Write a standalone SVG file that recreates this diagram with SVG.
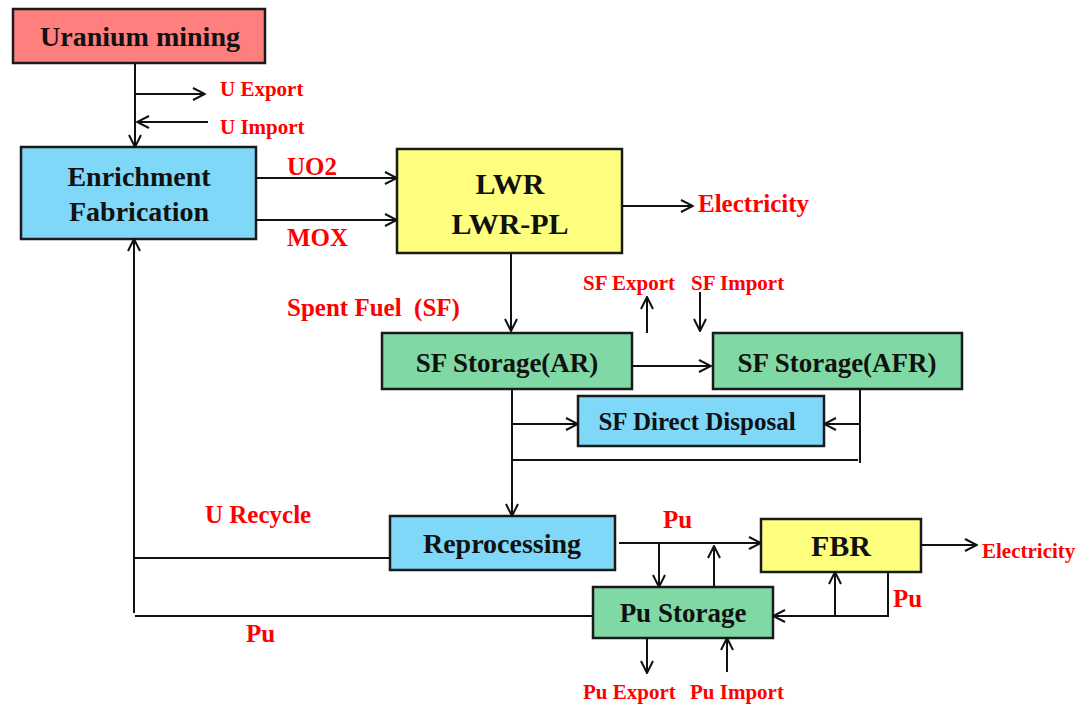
<svg xmlns="http://www.w3.org/2000/svg" width="1079" height="705" viewBox="0 0 1079 705">
<style>
.box{stroke:#1a1a1a;stroke-width:2.5}
.red{fill:#FF7F7F}.blue{fill:#7FD8F8}.yel{fill:#FFFF7F}.grn{fill:#80D8A4}
.nt{font-family:"Liberation Serif",serif;font-weight:bold;fill:#111;text-anchor:middle}
.lb{font-family:"Liberation Serif",serif;font-weight:bold;fill:#FF0000;white-space:pre}
.c{stroke:#111;stroke-width:2;fill:none}
.a{marker-end:url(#ah)}
</style>
<defs>
<marker id="ah" viewBox="0 0 14 14" refX="13" refY="7" markerWidth="14" markerHeight="14" markerUnits="userSpaceOnUse" orient="auto">
<path d="M1,1 L13,7 L1,13" fill="none" stroke="#111" stroke-width="2"/>
</marker>
</defs>
<rect width="1079" height="705" fill="#fff"/>
<g id="mining"><rect class="box red" x="13" y="9" width="252" height="54"/><text class="nt" x="140" y="46" font-size="28">Uranium mining</text></g>
<g id="enrich"><rect class="box blue" x="21" y="147" width="235" height="92"/><text class="nt" x="139" y="186" font-size="28">Enrichment</text><text class="nt" x="139" y="221" font-size="28">Fabrication</text></g>
<g id="lwr"><rect class="box yel" x="397" y="149" width="225" height="104"/><text class="nt" x="510" y="194" font-size="30">LWR</text><text class="nt" x="510" y="234" font-size="30">LWR-PL</text></g>
<g id="sfar"><rect class="box grn" x="382" y="333" width="250" height="56"/><text class="nt" x="507" y="372" font-size="27">SF Storage(AR)</text></g>
<g id="sfafr"><rect class="box grn" x="713" y="333" width="249" height="56"/><text class="nt" x="837" y="372" font-size="27">SF Storage(AFR)</text></g>
<g id="sfdd"><rect class="box blue" x="578" y="396" width="246" height="50"/><text class="nt" x="697" y="430" font-size="25">SF Direct Disposal</text></g>
<g id="repro"><rect class="box blue" x="390" y="516" width="225" height="54"/><text class="nt" x="502" y="553" font-size="28">Reprocessing</text></g>
<g id="fbr"><rect class="box yel" x="761" y="519" width="160" height="53"/><text class="nt" x="841" y="556" font-size="30">FBR</text></g>
<g id="pustor"><rect class="box grn" x="593" y="587" width="180" height="51"/><text class="nt" x="683" y="622" font-size="27">Pu Storage</text></g>
<g id="connectors">
<path class="c a" d="M135,63 V147"/>
<path class="c a" d="M135,94 H205"/>
<path class="c a" d="M208,122 H137"/>
<path class="c a" d="M256,178 H397"/>
<path class="c a" d="M256,220 H397"/>
<path class="c a" d="M622,206 H693"/>
<path class="c a" d="M511,253 V331"/>
<path class="c a" d="M647,333 V297"/>
<path class="c a" d="M700,292 V331"/>
<path class="c a" d="M632,366 H711"/>
<path class="c a" d="M512,389 V516"/>
<path class="c a" d="M512,424 H578"/>
<path class="c" d="M512,460 H858"/>
<path class="c" d="M860,389 V463"/>
<path class="c a" d="M860,424 H824"/>
<path class="c" d="M390,558 H134"/>
<path class="c a" d="M134,613 V239"/>
<path class="c" d="M135,616 H593"/>
<path class="c a" d="M619,543 H761"/>
<path class="c a" d="M659,543 V587"/>
<path class="c a" d="M714,587 V546"/>
<path class="c a" d="M921,545 H977"/>
<path class="c a" d="M888,572 V616 H773"/>
<path class="c a" d="M835,616 V572"/>
<path class="c a" d="M647,638 V673"/>
<path class="c a" d="M727,672 V638"/>
</g>
<g id="labels">
<text class="lb" x="220" y="96" font-size="21">U Export</text>
<text class="lb" x="220" y="134" font-size="21">U Import</text>
<text class="lb" x="287" y="175" font-size="25">UO2</text>
<text class="lb" x="287" y="246" font-size="25">MOX</text>
<text class="lb" x="698" y="212" font-size="25">Electricity</text>
<text class="lb" x="287" y="316" font-size="25" xml:space="preserve">Spent Fuel  (SF)</text>
<text class="lb" x="583" y="290" font-size="21">SF Export</text>
<text class="lb" x="691" y="290" font-size="21">SF Import</text>
<text class="lb" x="205" y="523" font-size="25">U Recycle</text>
<text class="lb" x="663" y="528" font-size="25">Pu</text>
<text class="lb" x="982" y="558" font-size="21">Electricity</text>
<text class="lb" x="893" y="607" font-size="25">Pu</text>
<text class="lb" x="246" y="642" font-size="25">Pu</text>
<text class="lb" x="583" y="699" font-size="21">Pu Export</text>
<text class="lb" x="690" y="699" font-size="21">Pu Import</text>
</g>
</svg>
